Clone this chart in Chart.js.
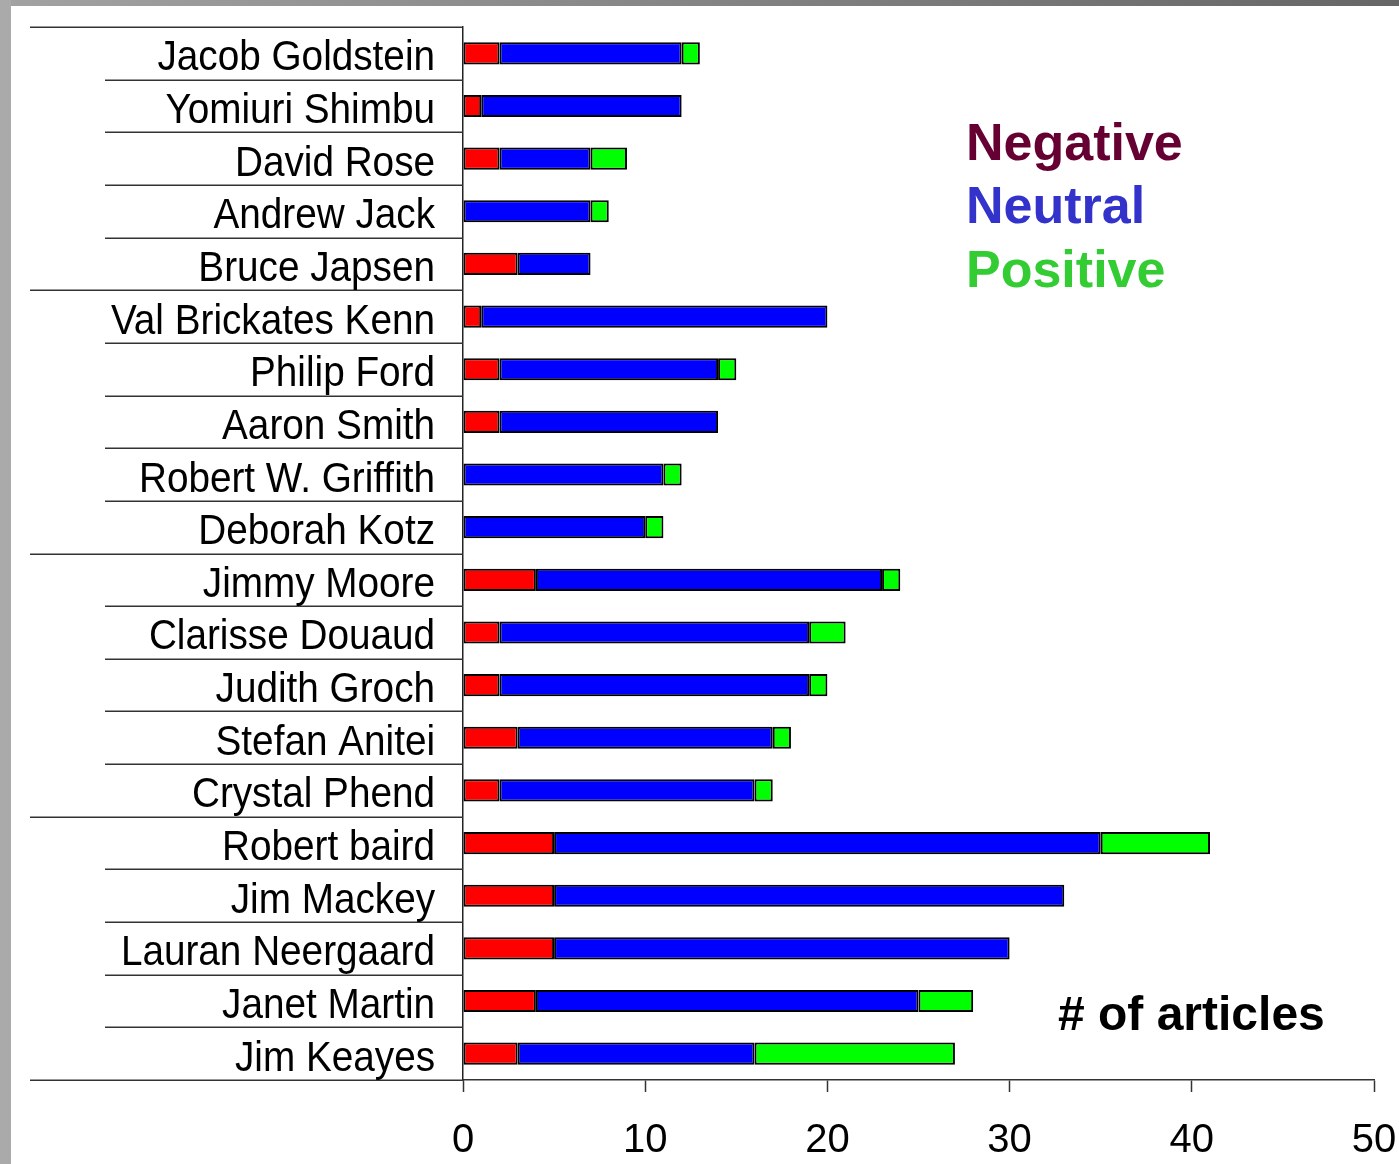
<!DOCTYPE html>
<html>
<head>
<meta charset="utf-8">
<script src="https://cdn.jsdelivr.net/npm/chart.js@4.4.0/dist/chart.umd.min.js"></script>
<style>
  html, body { margin: 0; padding: 0; background: #fff; }
  #wrap { position: relative; width: 1399px; height: 1164px; }
  canvas { display: block; }
  #topStrip { position: absolute; left: 0; top: 0; width: 1399px; height: 6px;
    background: linear-gradient(to right, #a2a2a2, #666666); pointer-events: none; }
  #leftStrip { position: absolute; left: 0; top: 0; width: 11px; height: 1164px;
    background: #aaaaaa; pointer-events: none; }
</style>
</head>
<body>
<div id="wrap">
  <canvas id="c" width="1399" height="1164"></canvas>
  <div id="topStrip"></div>
  <div id="leftStrip"></div>
</div>
<script>
const categories = ['Jacob Goldstein','Yomiuri Shimbu','David Rose','Andrew Jack','Bruce Japsen',
  'Val Brickates Kenn','Philip Ford','Aaron Smith','Robert W. Griffith','Deborah Kotz',
  'Jimmy Moore','Clarisse Douaud','Judith Groch','Stefan Anitei','Crystal Phend',
  'Robert baird','Jim Mackey','Lauran Neergaard','Janet Martin','Jim Keayes'];
const negative = [2,1,2,0,3, 1,2,2,0,0, 4,2,2,3,2, 5,5,5,4,3];
const neutral  = [10,11,5,7,4, 19,12,12,11,10, 19,17,17,14,14, 30,28,25,21,13];
const positive = [1,0,2,1,0, 0,1,0,1,1, 1,2,1,1,1, 6,0,0,3,11];
const seriesLabels = ['Negative','Neutral','Positive'];
const xTicks = [0,10,20,30,40,50];
const axisTitle = '# of articles';

const barColors = ['#ff0000','#0000ff','#00ff00'];
const legendColors = ['#660033','#3333cc','#33cc33'];
const FONT = "'Liberation Sans', Arial, sans-serif";

const separators = {
  id: 'separators',
  afterDraw(chart) {
    const ctx = chart.ctx, y = chart.scales.y, area = chart.chartArea;
    const n = categories.length;
    const half = (y.getPixelForValue(1) - y.getPixelForValue(0)) / 2;
    ctx.save();
    ctx.strokeStyle = '#333';
    ctx.lineWidth = 1.5;
    for (let i = 0; i <= n; i++) {
      const py = i < n ? y.getPixelForValue(i) - half : y.getPixelForValue(n - 1) + half;
      const x0 = (i % 5 === 0) ? 30 : 105;
      ctx.beginPath();
      ctx.moveTo(x0, Math.round(py) + 0.25);
      ctx.lineTo(area.left, Math.round(py) + 0.25);
      ctx.stroke();
    }
    // category labels (slightly condensed like the original)
    ctx.fillStyle = '#000';
    ctx.font = '43px ' + FONT;
    ctx.textAlign = 'right';
    ctx.textBaseline = 'alphabetic';
    const sx = 0.9, rightX = area.left - 28;
    categories.forEach((lab, i) => {
      const py = y.getPixelForValue(i);
      ctx.save();
      ctx.translate(rightX, py + 17);
      ctx.scale(sx, 1);
      ctx.fillText(lab, 0, 0);
      ctx.restore();
    });
    ctx.restore();
  }
};

const textLegend = {
  id: 'textLegend',
  afterDraw(chart) {
    const ctx = chart.ctx;
    ctx.save();
    ctx.textAlign = 'left';
    ctx.textBaseline = 'alphabetic';
    ctx.font = 'bold 52px ' + FONT;
    const baselines = [160, 223, 287];
    seriesLabels.forEach((lab, i) => {
      ctx.fillStyle = legendColors[i];
      ctx.fillText(lab, 966, baselines[i]);
    });
    ctx.fillStyle = '#000';
    ctx.font = 'bold 48px ' + FONT;
    ctx.fillText(axisTitle, 1058, 1030);
    ctx.restore();
  }
};

new Chart(document.getElementById('c'), {
  type: 'bar',
  data: {
    labels: categories,
    datasets: [negative, neutral, positive].map((d, i) => ({
      label: seriesLabels[i],
      data: d,
      backgroundColor: barColors[i],
      borderColor: '#000',
      borderWidth: 2,
      borderSkipped: false,
      barPercentage: 0.42,
      categoryPercentage: 1.0
    }))
  },
  options: {
    indexAxis: 'y',
    responsive: false,
    animation: false,
    layout: { padding: { top: 27, right: 25, left: 0, bottom: 0 } },
    plugins: { legend: { display: false }, tooltip: { enabled: false } },
    scales: {
      x: {
        stacked: true,
        min: 0, max: 50,
        afterBuildTicks(scale) { scale.ticks = xTicks.map(v => ({ value: v })); },
        afterFit(scale) { scale.height = 84; scale.paddingLeft = 0; scale.paddingRight = 0; },
        grid: { drawOnChartArea: false, drawTicks: true, tickLength: 12, tickColor: '#333', tickWidth: 1.5 },
        border: { display: true, color: '#333', width: 1.5 },
        ticks: { color: '#000', font: { family: FONT, size: 40 }, padding: 25, maxRotation: 0 }
      },
      y: {
        stacked: true,
        afterFit(scale) { scale.width = 463; scale.paddingTop = 0; scale.paddingBottom = 0; },
        grid: { display: false },
        border: { display: true, color: '#222', width: 1.5 },
        ticks: { display: false, autoSkip: false }
      }
    }
  },
  plugins: [separators, textLegend]
});
</script>
</body>
</html>
